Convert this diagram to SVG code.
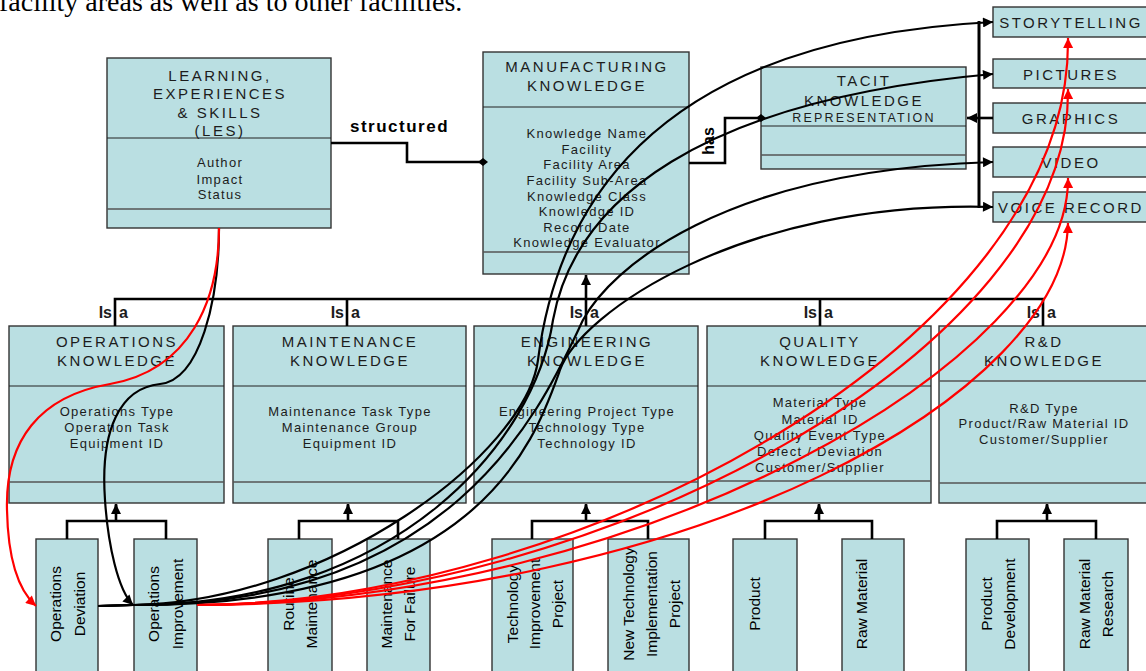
<svg xmlns="http://www.w3.org/2000/svg" width="1146" height="671" viewBox="0 0 1146 671">
<defs>
<style>
.box{fill:#BADFE2;stroke:#333;stroke-width:1.4}
.d1{stroke:#222;stroke-width:1}
.d2{stroke:#555;stroke-width:1.5}
text{font-family:"Liberation Sans",Arial,sans-serif;fill:#1c1c1c}
.ttl{font-size:15px;letter-spacing:2.5px;text-anchor:middle}
.sub{font-size:12.5px;letter-spacing:2.2px;text-anchor:middle}
.att{font-size:13px;letter-spacing:1.3px;text-anchor:middle}
.lbl{font-size:15.5px;text-anchor:middle;fill:#000}
.bold{font-size:16px;font-weight:bold;fill:#000}
.ln{fill:none;stroke:#000;stroke-width:2.6}
.cv{fill:none;stroke:#000;stroke-width:2.2}
.rd{fill:none;stroke:#f00;stroke-width:2.2}
</style>
<marker id="ah" viewBox="0 0 10 10" refX="10" refY="5" markerWidth="11" markerHeight="10" markerUnits="userSpaceOnUse" orient="auto"><path d="M0,0L10,5L0,10z" fill="#000"/></marker>
<marker id="ahr" viewBox="0 0 10 10" refX="10" refY="5" markerWidth="11" markerHeight="10" markerUnits="userSpaceOnUse" orient="auto"><path d="M0,0L10,5L0,10z" fill="#f00"/></marker>
</defs>
<rect width="1146" height="671" fill="#fff"/>

<text x="-1" y="11" style="font-family:'Liberation Serif',serif;font-size:28px;fill:#000">facility areas as well as to other facilities.</text>

<!-- top level classes -->
<g id="les">
<rect class="box" x="107" y="58" width="224" height="170"/>
<line class="d1" x1="107" y1="138" x2="331" y2="138"/>
<line class="d2" x1="107" y1="209" x2="331" y2="209"/>
<text class="ttl" x="220" y="80.5">LEARNING,</text>
<text class="ttl" x="220" y="99">EXPERIENCES</text>
<text class="ttl" x="220" y="117.5">&amp; SKILLS</text>
<text class="ttl" x="220" y="136">(LES)</text>
<text class="att" x="220" y="167">Author</text>
<text class="att" x="220" y="183.5">Impact</text>
<text class="att" x="220" y="199">Status</text>
</g>

<g id="manufacturing">
<rect class="box" x="483" y="52" width="206" height="222"/>
<line class="d1" x1="483" y1="107" x2="689" y2="107"/>
<line class="d2" x1="483" y1="252" x2="689" y2="252"/>
<text class="ttl" x="587" y="72">MANUFACTURING</text>
<text class="ttl" x="587" y="91">KNOWLEDGE</text>
<text class="att" x="587" y="138">Knowledge Name</text>
<text class="att" x="587" y="153.5">Facility</text>
<text class="att" x="587" y="169">Facility Area</text>
<text class="att" x="587" y="184.5">Facility Sub-Area</text>
<text class="att" x="587" y="200.5">Knowledge Class</text>
<text class="att" x="587" y="216">Knowledge ID</text>
<text class="att" x="587" y="231.5">Record Date</text>
<text class="att" x="587" y="247">Knowledge Evaluator</text>
</g>

<g id="tacit">
<rect class="box" x="761" y="67" width="205" height="102"/>
<line class="d1" x1="761" y1="126" x2="966" y2="126"/>
<line class="d2" x1="761" y1="155" x2="966" y2="155"/>
<text class="ttl" x="864" y="86">TACIT</text>
<text class="ttl" x="864" y="105.5">KNOWLEDGE</text>
<text class="sub" x="864" y="121.5">REPRESENTATION</text>
</g>

<!-- representation media -->
<g id="storytelling"><rect class="box" x="993" y="7" width="160" height="30"/><text class="ttl" x="1071" y="27.5">STORYTELLING</text></g>
<g id="pictures"><rect class="box" x="993" y="59" width="160" height="29"/><text class="ttl" x="1071" y="79.5">PICTURES</text></g>
<g id="graphics"><rect class="box" x="993" y="103" width="160" height="30"/><text class="ttl" x="1071" y="123.5">GRAPHICS</text></g>
<g id="video"><rect class="box" x="993" y="147" width="160" height="30"/><text class="ttl" x="1071" y="167.5">VIDEO</text></g>
<g id="voice-record"><rect class="box" x="993" y="192" width="160" height="30"/><text class="ttl" x="1071" y="212.5">VOICE RECORD</text></g>

<!-- knowledge subclasses -->
<g id="operations">
<rect class="box" x="9" y="326" width="215" height="177"/>
<line class="d1" x1="9" y1="386" x2="224" y2="386"/>
<line class="d2" x1="9" y1="482" x2="224" y2="482"/>
<text class="ttl" x="117" y="347">OPERATIONS</text>
<text class="ttl" x="117" y="366">KNOWLEDGE</text>
<text class="att" x="117" y="416">Operations Type</text>
<text class="att" x="117" y="432">Operation Task</text>
<text class="att" x="117" y="447.5">Equipment ID</text>
</g>

<g id="maintenance">
<rect class="box" x="233" y="326" width="233" height="177"/>
<line class="d1" x1="233" y1="386" x2="466" y2="386"/>
<line class="d2" x1="233" y1="482" x2="466" y2="482"/>
<text class="ttl" x="350" y="347">MAINTENANCE</text>
<text class="ttl" x="350" y="366">KNOWLEDGE</text>
<text class="att" x="350" y="416">Maintenance Task Type</text>
<text class="att" x="350" y="432">Maintenance Group</text>
<text class="att" x="350" y="447.5">Equipment ID</text>
</g>

<g id="engineering">
<rect class="box" x="474" y="326" width="224" height="177"/>
<line class="d1" x1="474" y1="386" x2="698" y2="386"/>
<line class="d2" x1="474" y1="482" x2="698" y2="482"/>
<text class="ttl" x="587" y="347">ENGINEERING</text>
<text class="ttl" x="587" y="366">KNOWLEDGE</text>
<text class="att" x="587" y="416">Engineering Project Type</text>
<text class="att" x="587" y="432">Technology Type</text>
<text class="att" x="587" y="447.5">Technology ID</text>
</g>

<g id="quality">
<rect class="box" x="707" y="326" width="224" height="177"/>
<line class="d1" x1="707" y1="386" x2="931" y2="386"/>
<line class="d2" x1="707" y1="481" x2="931" y2="481"/>
<text class="ttl" x="820" y="347">QUALITY</text>
<text class="ttl" x="820" y="366">KNOWLEDGE</text>
<text class="att" x="820" y="407">Material Type</text>
<text class="att" x="820" y="423.5">Material ID</text>
<text class="att" x="820" y="440">Quality Event Type</text>
<text class="att" x="820" y="456">Defect / Deviation</text>
<text class="att" x="820" y="472">Customer/Supplier</text>
</g>

<g id="rnd">
<rect class="box" x="939" y="326" width="220" height="177"/>
<line class="d2" x1="939" y1="381" x2="1159" y2="381"/>
<line class="d2" x1="939" y1="483" x2="1159" y2="483"/>
<text class="ttl" x="1044" y="347">R&amp;D</text>
<text class="ttl" x="1044" y="366">KNOWLEDGE</text>
<text class="att" x="1044" y="413">R&amp;D Type</text>
<text class="att" x="1044" y="428">Product/Raw Material ID</text>
<text class="att" x="1044" y="444">Customer/Supplier</text>
</g>

<!-- leaf categories -->
<g id="ops-deviation"><rect class="box" x="36" y="539" width="62" height="140"/>
<text class="lbl" transform="translate(60.5,604) rotate(-90)"><tspan x="0" y="0">Operations</tspan><tspan x="0" y="24">Deviation</tspan></text></g>
<g id="ops-improvement"><rect class="box" x="134" y="539" width="63" height="140"/>
<text class="lbl" transform="translate(159,604) rotate(-90)"><tspan x="0" y="0">Operations</tspan><tspan x="0" y="24">Improvement</tspan></text></g>
<g id="routine-maintenance"><rect class="box" x="268" y="539" width="64" height="140"/>
<text class="lbl" transform="translate(293.5,604) rotate(-90)"><tspan x="0" y="0">Routine</tspan><tspan x="0" y="23">Maintenance</tspan></text></g>
<g id="maintenance-failure"><rect class="box" x="367" y="539" width="63" height="140"/>
<text class="lbl" transform="translate(391.5,604) rotate(-90)"><tspan x="0" y="0">Maintenance</tspan><tspan x="0" y="23">For Failure</tspan></text></g>
<g id="tech-improvement"><rect class="box" x="492" y="539" width="81" height="140"/>
<text class="lbl" transform="translate(517.5,604) rotate(-90)"><tspan x="0" y="0">Technology</tspan><tspan x="0" y="22.5">Improvement</tspan><tspan x="0" y="45">Project</tspan></text></g>
<g id="new-tech"><rect class="box" x="608" y="539" width="81" height="140"/>
<text class="lbl" transform="translate(633.5,604) rotate(-90)"><tspan x="0" y="0">New Technology</tspan><tspan x="0" y="23">Implementation</tspan><tspan x="0" y="46">Project</tspan></text></g>
<g id="product"><rect class="box" x="733" y="539" width="64" height="140"/>
<text class="lbl" transform="translate(759.5,604) rotate(-90)">Product</text></g>
<g id="raw-material"><rect class="box" x="842" y="539" width="62" height="140"/>
<text class="lbl" transform="translate(866.5,604) rotate(-90)">Raw Material</text></g>
<g id="product-development"><rect class="box" x="966" y="539" width="63" height="140"/>
<text class="lbl" transform="translate(991.5,604) rotate(-90)"><tspan x="0" y="0">Product</tspan><tspan x="0" y="23">Development</tspan></text></g>
<g id="raw-material-research"><rect class="box" x="1064" y="539" width="64" height="140"/>
<text class="lbl" transform="translate(1089.5,604) rotate(-90)"><tspan x="0" y="0">Raw Material</tspan><tspan x="0" y="23">Research</tspan></text></g>

<!-- connectors -->
<g id="connectors">
<path class="ln" d="M331,143H407V162H483"/>
<polygon points="478,162 483,158 488,162 483,166" fill="#000"/>
<text class="bold" x="350" y="132" style="font-size:17px;letter-spacing:1.5px">structured</text>
<path class="ln" d="M689,163H725V118H761"/>
<polygon points="756,118 761,114 766,118 761,122" fill="#000"/>
<text class="bold" text-anchor="middle" transform="translate(713.5,141) rotate(-90)">has</text>

<path class="ln" d="M115,326V299H1043V326M347,299V326M586,299V326M820,299V326"/>
<path class="ln" d="M586,299V275" marker-end="url(#ah)"/>
<g class="bold">
<text x="112" y="318" text-anchor="end">Is</text><text x="119" y="318">a</text>
<text x="344" y="318" text-anchor="end">Is</text><text x="351" y="318">a</text>
<text x="583" y="318" text-anchor="end">Is</text><text x="590" y="318">a</text>
<text x="817" y="318" text-anchor="end">Is</text><text x="824" y="318">a</text>
<text x="1040" y="318" text-anchor="end">Is</text><text x="1047" y="318">a</text>
</g>

<path class="ln" d="M67,539V521H166V539M116,521V505" />
<path class="ln" d="M116,512V504" marker-end="url(#ah)"/>
<path class="ln" d="M299,539V521H398V539M348,521V505"/>
<path class="ln" d="M348,512V504" marker-end="url(#ah)"/>
<path class="ln" d="M532,539V521H648V539M586,521V505"/>
<path class="ln" d="M586,512V504" marker-end="url(#ah)"/>
<path class="ln" d="M765,539V521H872V539M819,521V505"/>
<path class="ln" d="M819,512V504" marker-end="url(#ah)"/>
<path class="ln" d="M997,539V521H1096V539M1047,521V505"/>
<path class="ln" d="M1047,512V504" marker-end="url(#ah)"/>

<path class="ln" style="stroke-width:3" d="M979,21V208"/>
<path class="ln" d="M993,118H967" marker-end="url(#ah)"/>

<path class="cv" d="M219,228C219,300 200,380 160,384C120,388 100,430 105,500C108,545 118,590 133,605" marker-end="url(#ah)"/>
<path class="rd" d="M219,228C219,300 190,370 110,384C40,396 5,440 7,510C8,560 18,590 36,606" marker-end="url(#ahr)"/>

<path class="cv" d="M98,606L133,605C330,602 526,453 538,360C556,220 640,40 993,22" marker-end="url(#ah)"/>
<path class="cv" d="M98,606L133,605C400,605 535,440 553,320C575,200 700,100 993,74" marker-end="url(#ah)"/>
<path class="cv" d="M98,606L133,605C460,606 545,400 583,320C610,270 720,170 993,162" marker-end="url(#ah)"/>
<path class="cv" d="M98,606L133,605C480,606 535,440 560,370C580,314 740,200 993,207" marker-end="url(#ah)"/>

<path class="rd" d="M197,605C580,603 1072,340 1068,38" marker-end="url(#ahr)"/>
<path class="rd" d="M197,605C600,603 1072,350 1068,89" marker-end="url(#ahr)"/>
<path class="rd" d="M197,605C640,603 1070,360 1068,178" marker-end="url(#ahr)"/>
<path class="rd" d="M197,605C700,603 1066,390 1068,223" marker-end="url(#ahr)"/>
</g>
</svg>
